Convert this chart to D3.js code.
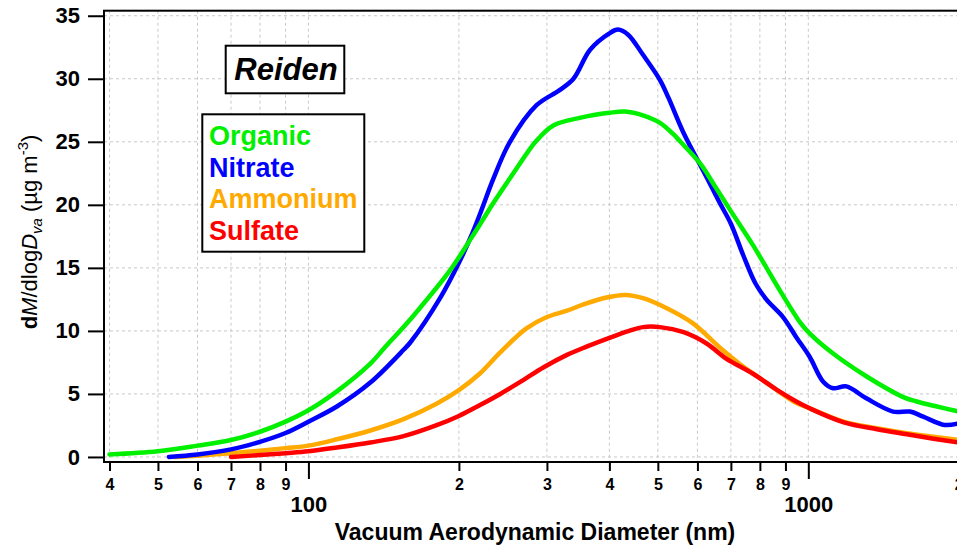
<!DOCTYPE html>
<html>
<head>
<meta charset="utf-8">
<script src="https://cdn.jsdelivr.net/npm/d3@7"></script>
<style>
  body { margin: 0; background: #fff; }
  svg { display: block; font-family: "Liberation Sans", Arial, sans-serif; }
  .grid line { stroke: #c8c8c8; stroke-width: 1; stroke-dasharray: 3,3; }
</style>
</head>
<body>
<div id="chart"></div>
<script>
// ---------- data ----------
const seriesNames = ["Organic", "Nitrate", "Ammonium", "Sulfate"];
const seriesColors = ["#00f000", "#0000ff", "#ffaa00", "#ff0000"];

const organicD = [40, 50, 60, 70, 80, 90, 100, 114, 133, 143, 155, 167, 192, 212, 224, 234, 257, 286, 309, 349, 400, 430, 467, 505, 537, 555, 607, 650, 700, 775, 890, 962, 1006, 1121, 1306, 1549, 1647, 1808, 2000];
const organicV = [0.2, 0.45, 0.9, 1.35, 2.0, 2.8, 3.7, 5.2, 7.4, 8.8, 10.3, 11.8, 14.8, 17.4, 18.9, 20.1, 22.5, 25.1, 26.3, 26.9, 27.3, 27.4, 27.1, 26.5, 25.6, 25.0, 23.3, 21.5, 19.5, 16.8, 12.8, 10.7, 9.8, 8.2, 6.4, 4.75, 4.4, 4.0, 3.6];

const nitrateD = [52.6, 60, 70, 80, 90, 100, 114, 133, 155, 160, 184, 200, 212, 222, 234, 253, 286, 318, 339, 366, 400, 416, 436, 467, 505, 525, 563, 626, 664, 700, 741, 783, 824, 890, 946, 1006, 1071, 1121, 1192, 1306, 1477, 1596, 1697, 1873, 2000];
const nitrateV = [0.0, 0.2, 0.6, 1.2, 1.9, 2.8, 4.0, 5.9, 8.5, 9.1, 12.7, 15.4, 17.6, 19.6, 22.0, 25.0, 27.9, 29.1, 30.0, 32.3, 33.6, 33.9, 33.5, 31.9, 29.9, 28.5, 25.7, 22.2, 20.2, 18.5, 16.0, 13.8, 12.5, 11.1, 9.5, 7.95, 5.97, 5.45, 5.6, 4.65, 3.6, 3.6, 3.2, 2.54, 2.67];

const ammoniumD = [54, 60, 70, 80, 90, 100, 114, 133, 155, 180, 200, 220, 242, 273, 300, 329, 355, 395, 430, 467, 521, 588, 664, 728, 824, 934, 1006, 1177, 1372, 1575, 1779, 2000];
const ammoniumV = [0.0, 0.1, 0.3, 0.5, 0.7, 0.9, 1.4, 2.1, 3.0, 4.2, 5.3, 6.6, 8.3, 10.2, 11.1, 11.6, 12.1, 12.65, 12.85, 12.6, 11.8, 10.6, 8.7, 7.4, 5.9, 4.4, 3.86, 2.8, 2.28, 1.88, 1.6, 1.35];

const sulfateD = [70, 80, 90, 100, 114, 133, 155, 180, 200, 220, 242, 269, 295, 329, 360, 400, 438, 467, 505, 563, 626, 685, 775, 875, 946, 1006, 1177, 1372, 1575, 1779, 2000];
const sulfateV = [0.0, 0.15, 0.3, 0.45, 0.75, 1.15, 1.65, 2.5, 3.25, 4.1, 5.0, 6.1, 7.1, 8.1, 8.75, 9.45, 10.0, 10.3, 10.3, 9.9, 9.0, 7.8, 6.6, 5.2, 4.4, 3.86, 2.75, 2.2, 1.8, 1.45, 1.15];

const yTicks = [0, 5, 10, 15, 20, 25, 30, 35];
const xMinorTicks = [40, 50, 60, 70, 80, 90, 200, 300, 400, 500, 600, 700, 800, 900, 2000];
const xMajorTicks = [100, 1000];

// ---------- layout ----------
const width = 957, height = 546;
const plot = { left: 104, right: 958.8, top: 10.7, bottom: 462 };

const svg = d3.select("#chart").append("svg")
  .attr("width", width).attr("height", height);

const x = d3.scaleLog().domain([39, 2000]).range([plot.left, plot.right]);
const y = d3.scaleLinear().domain([-0.4, 35.4]).range([plot.bottom, plot.top]);

// grid
const grid = svg.append("g").attr("class", "grid");
grid.selectAll(".gx")
  .data(xMinorTicks.concat(xMajorTicks))
  .join("line")
  .attr("x1", d => x(d)).attr("x2", d => x(d))
  .attr("y1", plot.top).attr("y2", plot.bottom);
grid.selectAll(".gy")
  .data(yTicks)
  .join("line")
  .attr("x1", plot.left).attr("x2", plot.right)
  .attr("y1", d => y(d)).attr("y2", d => y(d));

// curves
const series = [
  { name: "Ammonium", d: ammoniumD, v: ammoniumV, color: seriesColors[2] },
  { name: "Sulfate", d: sulfateD, v: sulfateV, color: seriesColors[3] },
  { name: "Nitrate", d: nitrateD, v: nitrateV, color: seriesColors[1] },
  { name: "Organic", d: organicD, v: organicV, color: seriesColors[0] }
];

svg.append("clipPath").attr("id", "clip")
  .append("rect")
  .attr("x", plot.left).attr("y", plot.top)
  .attr("width", plot.right - plot.left).attr("height", plot.bottom - plot.top);

const line = d3.line()
  .x(p => x(p[0]))
  .y(p => y(p[1]))
  .curve(d3.curveCatmullRom.alpha(0.5));

svg.append("g").attr("clip-path", "url(#clip)")
  .selectAll("path")
  .data(series)
  .join("path")
  .attr("d", s => line(s.d.map((dd, i) => [dd, s.v[i]])))
  .attr("fill", "none")
  .attr("stroke", s => s.color)
  .attr("stroke-width", 4.5)
  .attr("stroke-linejoin", "round")
  .attr("stroke-linecap", "round");

// frame
svg.append("rect")
  .attr("x", plot.left).attr("y", plot.top)
  .attr("width", plot.right - plot.left).attr("height", plot.bottom - plot.top)
  .attr("fill", "none").attr("stroke", "#000").attr("stroke-width", 2);

// y axis
const yAxis = svg.append("g")
  .attr("transform", `translate(${plot.left},0)`)
  .call(d3.axisLeft(y).tickValues(yTicks).tickSize(16).tickPadding(8));
yAxis.select(".domain").remove();
yAxis.selectAll(".tick line").attr("stroke-width", 2);
yAxis.selectAll("text")
  .attr("font-size", 22).attr("font-weight", "bold")
  .attr("font-family", "Liberation Sans, Arial, sans-serif").attr("fill", "#000");

// x axis: minor ticks with small digits
const xMinor = svg.append("g")
  .attr("transform", `translate(0,${plot.bottom})`)
  .call(d3.axisBottom(x).tickValues(xMinorTicks).tickSize(9).tickPadding(8)
    .tickFormat(d => String(d).charAt(0)));
xMinor.select(".domain").remove();
xMinor.selectAll(".tick line").attr("stroke-width", 2);
xMinor.selectAll("text")
  .attr("font-size", 16).attr("font-weight", "bold")
  .attr("font-family", "Liberation Sans, Arial, sans-serif").attr("fill", "#000");

// x axis: decades
const xMajor = svg.append("g")
  .attr("transform", `translate(0,${plot.bottom})`)
  .call(d3.axisBottom(x).tickValues(xMajorTicks).tickSize(17).tickPadding(17)
    .tickFormat(d3.format("d")));
xMajor.select(".domain").remove();
xMajor.selectAll(".tick line").attr("stroke-width", 2);
xMajor.selectAll("text")
  .attr("font-size", 22).attr("font-weight", "bold")
  .attr("font-family", "Liberation Sans, Arial, sans-serif").attr("fill", "#000");

// axis titles
svg.append("text")
  .attr("x", 535).attr("y", 540)
  .attr("text-anchor", "middle")
  .attr("font-size", 23).attr("font-weight", "bold")
  .text("Vacuum Aerodynamic Diameter (nm)");

const yTitle = svg.append("text")
  .attr("transform", "translate(37,232) rotate(-90)")
  .attr("text-anchor", "middle")
  .attr("font-size", 22);
yTitle.append("tspan").attr("font-weight", "bold").text("d");
yTitle.append("tspan").attr("font-style", "italic").text("M");
yTitle.append("tspan").text("/dlog");
yTitle.append("tspan").attr("font-style", "italic").text("D");
yTitle.append("tspan").attr("font-style", "italic").attr("font-size", 15).attr("dy", 5).text("va");
yTitle.append("tspan").attr("dy", -5).text(" (µg m");
yTitle.append("tspan").attr("font-size", 15).attr("dy", -9).text("-3");
yTitle.append("tspan").attr("dy", 9).text(")");

// site label box
svg.append("rect")
  .attr("x", 225.7).attr("y", 45.7).attr("width", 118.6).attr("height", 47.6)
  .attr("fill", "#fff").attr("stroke", "#000").attr("stroke-width", 2);
svg.append("text")
  .attr("x", 286).attr("y", 80)
  .attr("text-anchor", "middle")
  .attr("font-size", 31).attr("font-weight", "bold").attr("font-style", "italic")
  .text("Reiden");

// legend
svg.append("rect")
  .attr("x", 202.3).attr("y", 114.3).attr("width", 162).attr("height", 137.4)
  .attr("fill", "#fff").attr("stroke", "#000").attr("stroke-width", 2);
svg.append("g").selectAll("text")
  .data(seriesNames)
  .join("text")
  .attr("x", 209)
  .attr("y", (d, i) => 145 + i * 31.7)
  .attr("font-size", 27).attr("font-weight", "bold")
  .attr("fill", (d, i) => seriesColors[i])
  .text(d => d);
</script>
</body>
</html>
